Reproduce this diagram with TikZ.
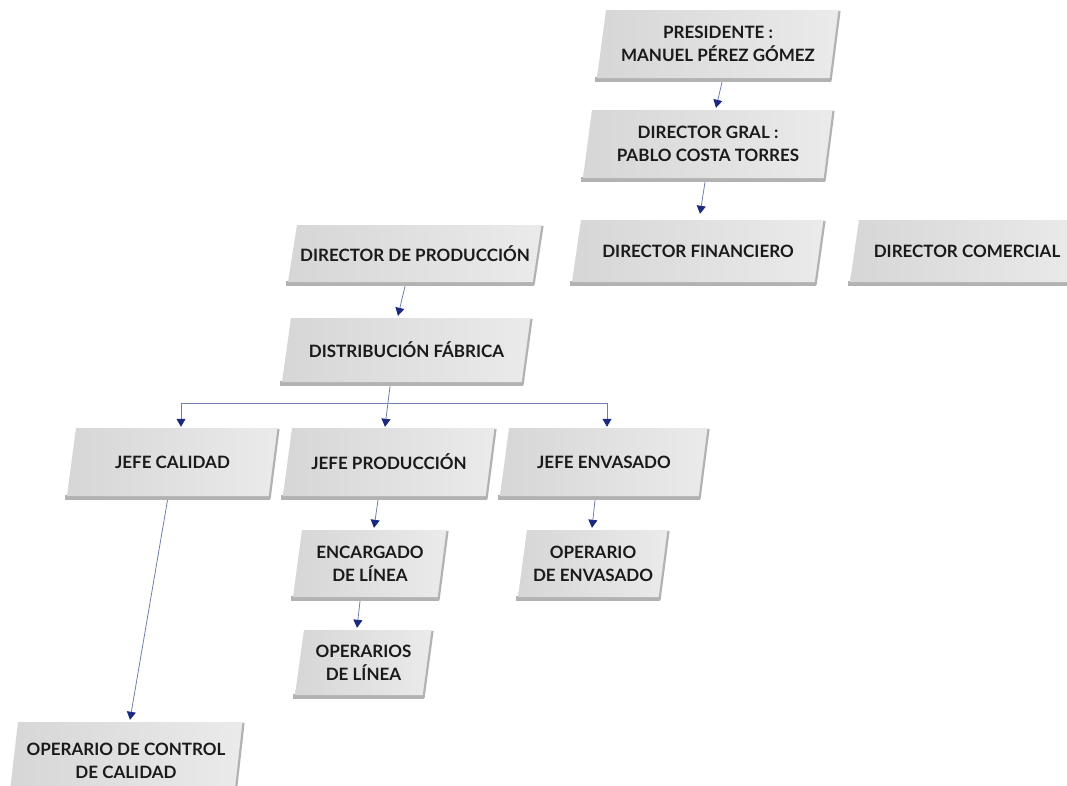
\documentclass[tikz,border=0pt]{standalone}
\usepackage{fontspec}
\setmainfont{Lato}
\usetikzlibrary{arrows.meta}
\definecolor{linec}{HTML}{7080AE}
\definecolor{tipc}{HTML}{1B2A7E}
\definecolor{txtc}{HTML}{1A1A1A}
\tikzset{
  face/.style={left color=gray!32, middle color=white, right color=gray!16},
  shadowband/.style={fill=gray!60},
  rightedge/.style={draw=gray!60, line width=2.2pt},
  lbl/.style={inner sep=0pt, align=center, text=txtc, font=\fontsize{17}{23}\selectfont\bfseries},
  conn/.style={draw=linec, line width=0.8pt, -{Triangle[width=9pt,length=8pt,color=tipc,fill=tipc]}},
  busline/.style={draw=linec, line width=0.8pt}
}
% #1 name, #2 bottom-left x, #3 bottom-right x, #4 top y, #5 bottom y, #6 text
\newcommand\orgbox[6]{%
  \fill[shadowband] (#2-2,#5-1) -- (#3+1,#5-1) -- (#3+1,#5+3.5) -- (#2-2,#5+3.5) -- cycle;
  \shade[face] (#2,#5) -- (#3,#5) -- (#3+9,#4) -- (#2+9,#4) -- cycle;
  \draw[rightedge] (#3+9.5,#4+1) -- (#3+0.5,#5+3);
  \node[lbl, minimum width={(#3-#2)*1pt}, minimum height={(#5-#4)*1pt}] (#1)
    at ({(#2+#3+9)/2},{(#4+#5)/2}) {#6};
}
\begin{document}
\begin{tikzpicture}[x=1pt,y=-1pt]
\useasboundingbox (0,0) rectangle (1067,785);
\fill[white] (0,0) rectangle (1067,785);

\orgbox{pres}{597}{830}{10}{78}{PRESIDENTE :\\MANUEL PÉREZ GÓMEZ}
\orgbox{gral}{583}{824}{110}{178}{DIRECTOR GRAL :\\PABLO COSTA TORRES}
\orgbox{prod}{288}{533}{225}{282}{DIRECTOR DE PRODUCCIÓN}
\orgbox{fin}{572}{815}{220}{282}{DIRECTOR FINANCIERO}
\orgbox{com}{850}{1075}{220}{282}{DIRECTOR COMERCIAL}
\orgbox{dist}{282}{522}{318}{382}{DISTRIBUCIÓN FÁBRICA}
\orgbox{jcal}{67}{269}{428}{496}{JEFE CALIDAD}
\orgbox{jprod}{283}{486}{428}{496}{JEFE PRODUCCIÓN}
\orgbox{jenv}{500}{699}{428}{496}{JEFE ENVASADO}
\orgbox{enc}{293}{438}{530}{597}{ENCARGADO\\DE LÍNEA}
\orgbox{openv}{518}{659}{530}{597}{OPERARIO\\DE ENVASADO}
\orgbox{opl}{295}{423}{630}{695}{OPERARIOS\\DE LÍNEA}
\orgbox{opcc}{9}{234}{722}{800}{OPERARIO DE CONTROL\\DE CALIDAD}

% connectors
\draw[conn] ([xshift=4pt,yshift=-4pt]pres.south) -- ([xshift=8pt,yshift=2pt]gral.north);
\draw[conn] ([xshift=-3pt,yshift=-4pt]gral.south) -- ([xshift=2pt,yshift=6pt]fin.north);
\draw[conn] ([xshift=-10pt,yshift=-4pt]prod.south) -- ([xshift=-8.5pt,yshift=2pt]dist.north);
\coordinate (bus) at (388,403);
\draw[conn] ([xshift=-16.5pt,yshift=-4pt]dist.south) -- ([xshift=-4pt,yshift=1pt]jprod.north);
\draw[busline] (bus) -- (607,403);
\draw[busline] (bus) -- (181,403);
\draw[conn] (181,403) -- ([xshift=8.5pt,yshift=1pt]jcal.north);
\draw[conn] (607,403) -- ([xshift=3pt,yshift=1pt]jenv.north);
\draw[conn] ([xshift=-5pt,yshift=-4pt]jcal.south) -- ([xshift=4pt,yshift=2pt]opcc.north);
\draw[conn] ([xshift=-11pt,yshift=-4pt]jprod.south) -- ([xshift=4pt,yshift=2pt]enc.north);
\draw[conn] ([xshift=-10pt,yshift=-4pt]enc.south) -- ([xshift=-6.5pt,yshift=2pt]opl.north);
\draw[conn] ([xshift=-9pt,yshift=-4pt]jenv.south) -- ([xshift=-1pt,yshift=2pt]openv.north);
\end{tikzpicture}
\end{document}
